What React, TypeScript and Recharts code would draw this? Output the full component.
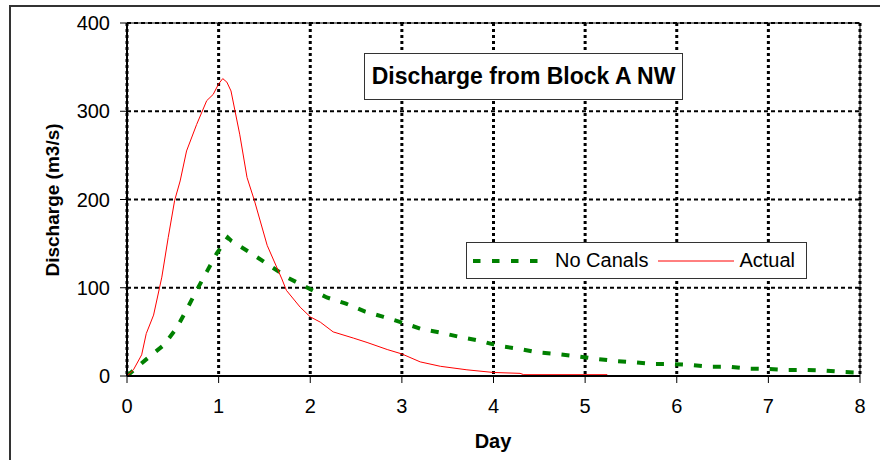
import React from 'react';
import {
    LineChart,
    Line,
    XAxis,
    YAxis,
    CartesianGrid,
    ReferenceLine
} from 'recharts';

// tick values
const dayTicks = [0, 1, 2, 3, 4, 5, 6, 7, 8];
const dischargeTicks = [0, 100, 200, 300, 400];

// "Actual" series
const actualDay = [0, 0.07, 0.16, 0.21, 0.29, 0.38, 0.45, 0.52, 0.58, 0.65, 0.76, 0.87, 0.94, 1.0, 1.045, 1.09, 1.135, 1.23, 1.31, 1.39, 1.53, 1.69, 1.74, 1.89, 2.0, 2.11, 2.25, 2.47, 2.62, 2.84, 3.0, 3.2, 3.42, 3.71, 4.0, 4.29, 4.33, 5.24, 5.25, 8];
const actualQ = [0, 7, 24, 48, 69, 112, 157, 199, 221, 255, 285, 312, 319, 331, 337, 333, 323, 274, 225, 199, 148, 110, 97, 78, 67, 61, 50, 43, 38, 30, 25, 16, 11, 7, 4, 3, 1.5, 1.5, 0.3, 0];

// "No Canals" series
const noCanalDay = [0, 0.2, 0.4, 0.54, 0.65, 0.76, 0.87, 0.98, 1.1, 1.14, 1.34, 1.56, 1.76, 1.97, 2.18, 2.39, 2.6, 2.8, 3.02, 3.22, 3.43, 3.64, 3.85, 4.06, 4.27, 4.47, 4.69, 4.89, 5.11, 5.33, 5.53, 5.74, 5.95, 6.16, 6.36, 6.58, 6.78, 7.0, 7.2, 7.41, 7.62, 7.83, 7.95];
const noCanalQ = [0, 18, 35, 54, 75, 97, 118, 139, 157, 153, 140, 125, 111, 100, 89, 82, 73, 67, 60, 53, 49, 44, 40, 34, 31, 27, 25, 22.6, 19.6, 17, 15.5, 13.6, 13.6, 12.4, 10.5, 10.5, 8.3, 7.9, 6.8, 6.8, 6, 4.5, 4];

const FONT = '"Liberation Sans", Arial, sans-serif';

const actualData = actualDay.map((d, i) => ({ day: d, q: actualQ[i] }));
const noCanalData = noCanalDay.map((d, i) => ({ day: d, q: noCanalQ[i] }));

const LegendBox = () => (
    <div style={{
        position: 'absolute', left: 466, top: 242, width: 341, height: 37,
        border: '1px solid #333', background: '#fff', boxSizing: 'border-box',
        display: 'flex', alignItems: 'center', fontFamily: FONT, fontSize: 20, color: '#000'
    }}>
        <svg width={65} height={10} style={{ marginLeft: 6 }}>
            <line x1={0} y1={5} x2={65} y2={5} stroke="#008000" strokeWidth={4} strokeDasharray="7.5 11.5" />
        </svg>
        <span style={{ marginLeft: 17 }}>No Canals</span>
        <svg width={76} height={10} style={{ marginLeft: 10 }}>
            <line x1={0} y1={5} x2={76} y2={5} stroke="#ff0000" strokeWidth={1} />
        </svg>
        <span style={{ marginLeft: 5 }}>Actual</span>
    </div>
);

export default function App() {
    return (
        <div style={{ position: 'absolute', left: 0, top: 0, width: 880, height: 460, overflow: 'hidden', background: '#fff' }}>
            {/* outer chart frame */}
            <div style={{
                position: 'absolute', left: 9, top: 5, width: 900, height: 500,
                border: '2px solid #333', pointerEvents: 'none'
            }} />

            <div style={{ position: 'absolute', left: 0, top: 0 }}>
                <LineChart width={880} height={460} margin={{ top: 23, right: 20, left: 67, bottom: 44 }}>
                    <CartesianGrid vertical={false} stroke="#000" strokeWidth={2} strokeDasharray="4 3" />
                    <CartesianGrid horizontal={false} stroke="#000" strokeWidth={3} strokeDasharray="3 3" />
                    <ReferenceLine y={400} stroke="#000" strokeWidth={1} />
                    <ReferenceLine x={8} stroke="#000" strokeWidth={1} />
                    <XAxis
                        type="number"
                        dataKey="day"
                        domain={[0, 8]}
                        ticks={dayTicks}
                        allowDataOverflow
                        height={40}
                        axisLine={{ stroke: '#000', strokeWidth: 2 }}
                        tickLine={{ stroke: '#000', strokeWidth: 1 }}
                        tickSize={7}
                        tickMargin={16}
                        tick={{ fill: '#000', fontSize: 20, fontFamily: FONT }}
                    />
                    <YAxis
                        type="number"
                        domain={[0, 400]}
                        ticks={dischargeTicks}
                        allowDataOverflow
                        width={60}
                        axisLine={{ stroke: '#000', strokeWidth: 2 }}
                        tickLine={{ stroke: '#000', strokeWidth: 1 }}
                        tickSize={7}
                        tickMargin={10}
                        tick={{ fill: '#000', fontSize: 20, fontFamily: FONT }}
                    />
                    <Line
                        data={noCanalData}
                        dataKey="q"
                        name="No Canals"
                        type="linear"
                        stroke="#008000"
                        strokeWidth={4}
                        strokeDasharray="8 11"
                        dot={false}
                        isAnimationActive={false}
                    />
                    <Line
                        data={actualData}
                        dataKey="q"
                        name="Actual"
                        type="linear"
                        stroke="#ff0000"
                        strokeWidth={1}
                        dot={false}
                        isAnimationActive={false}
                    />
                </LineChart>
            </div>

            <LegendBox />

            {/* title box */}
            <div style={{
                position: 'absolute', left: 364, top: 53, width: 319, height: 47,
                border: '1px solid #333', background: '#fff', boxSizing: 'border-box',
                display: 'flex', alignItems: 'center', justifyContent: 'center',
                fontFamily: FONT, fontWeight: 'bold', fontSize: 23, color: '#000', whiteSpace: 'nowrap'
            }}>
                Discharge from Block A NW
            </div>

            {/* axis titles */}
            <div style={{
                position: 'absolute', left: 493, top: 441, transform: 'translate(-50%, -50%)',
                fontFamily: FONT, fontWeight: 'bold', fontSize: 20, color: '#000'
            }}>Day</div>
            <div style={{
                position: 'absolute', left: 53, top: 200, transform: 'translate(-50%, -50%) rotate(-90deg)',
                fontFamily: FONT, fontWeight: 'bold', fontSize: 19, color: '#000', whiteSpace: 'nowrap'
            }}>Discharge (m3/s)</div>
        </div>
    );
}
